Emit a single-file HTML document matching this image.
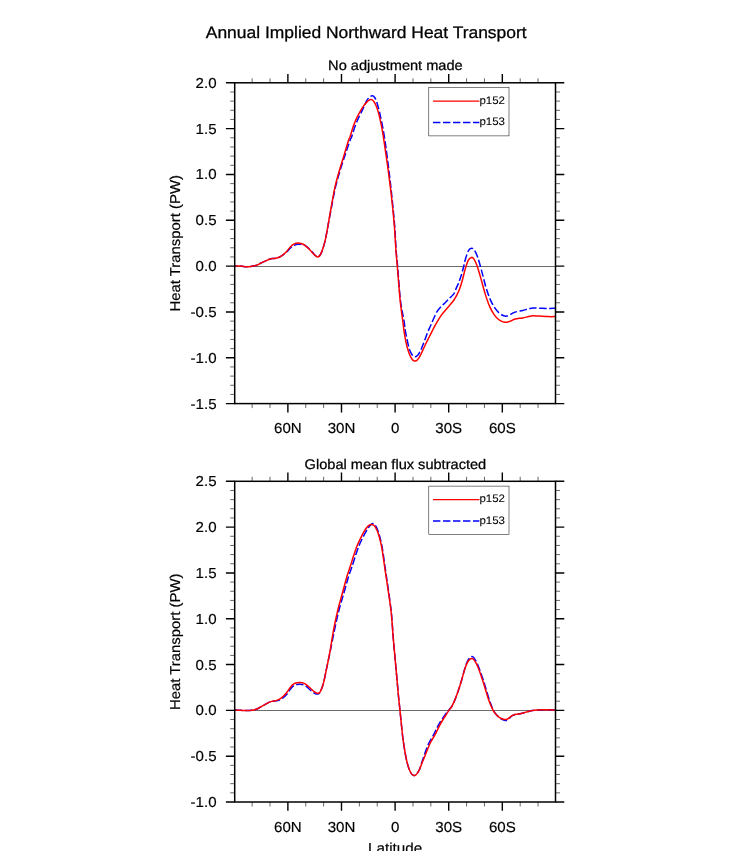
<!DOCTYPE html>
<html><head><meta charset="utf-8"><title>Annual Implied Northward Heat Transport</title>
<style>
html,body{margin:0;padding:0;background:#fff;}
body{width:732px;height:857px;overflow:hidden;font-family:"Liberation Sans",sans-serif;}
svg{display:block}
text{font-family:"Liberation Sans",sans-serif;fill:#000;text-rendering:geometricPrecision;stroke:#000;stroke-width:.16px}
svg{will-change:transform}
.tt{font-size:16.7px;stroke-width:.28px}
.st{font-size:13.9px;stroke-width:.26px}
.tl{font-size:14.5px}
.al{font-size:14.3px;stroke-width:.2px}
.lg{font-size:10.9px;stroke-width:.08px}
</style></head><body>
<svg width="732" height="857" viewBox="0 0 732 857">
<rect width="732" height="857" fill="#fff"/>
<text transform="translate(366.2 37.5) scale(1.045 1)" text-anchor="middle" class="tt">Annual Implied Northward Heat Transport</text>
<g><text transform="translate(395.40 70.00) scale(1.050 1)" text-anchor="middle" class="st">No adjustment made</text><path d="M234.70 266.50 H555.50" stroke="#000" stroke-width="0.58"/><path d="M234.90 266.00 C235.87 266.02 238.65 265.97 240.70 266.10 C242.75 266.23 245.15 266.82 247.20 266.80 C249.25 266.78 251.37 266.27 253.00 266.00 C254.63 265.73 255.65 265.70 257.00 265.20 C258.35 264.70 259.73 263.68 261.10 263.00 C262.47 262.32 263.83 261.73 265.20 261.10 C266.57 260.47 268.20 259.62 269.30 259.20 C270.40 258.78 270.70 258.77 271.80 258.60 C272.90 258.43 274.67 258.43 275.90 258.20 C277.13 257.97 278.13 257.67 279.20 257.20 C280.27 256.73 281.06 256.30 282.32 255.40 C283.59 254.50 285.32 253.13 286.77 251.82 C288.21 250.51 289.74 248.62 291.00 247.53 C292.26 246.45 293.07 245.83 294.30 245.30 C295.53 244.76 297.03 244.46 298.40 244.32 C299.77 244.18 301.28 244.21 302.50 244.45 C303.72 244.69 304.48 244.96 305.70 245.77 C306.92 246.58 308.46 247.96 309.80 249.30 C311.14 250.64 312.66 252.62 313.76 253.80 C314.86 254.98 315.67 255.88 316.37 256.40 C317.07 256.92 317.41 257.00 317.95 256.90 C318.49 256.80 318.99 256.60 319.60 255.80 C320.21 255.00 320.92 253.73 321.60 252.10 C322.28 250.47 323.02 248.32 323.70 246.00 C324.38 243.68 324.97 241.68 325.70 238.20 C326.43 234.72 327.12 230.37 328.10 225.10 C329.08 219.83 330.33 213.08 331.60 206.60 C332.87 200.12 334.20 192.50 335.70 186.20 C337.20 179.90 338.93 174.32 340.60 168.80 C342.27 163.28 344.10 157.92 345.70 153.10 C347.30 148.28 349.22 142.58 350.20 139.90 C351.18 137.22 350.77 139.35 351.60 137.00 C352.43 134.65 354.00 129.07 355.20 125.80 C356.40 122.53 357.67 119.90 358.80 117.40 C359.93 114.90 361.03 112.80 362.00 110.80 C362.97 108.80 363.87 107.00 364.60 105.40 C365.33 103.80 365.85 102.28 366.40 101.20 C366.95 100.12 367.30 99.65 367.90 98.90 C368.50 98.15 369.25 97.22 370.00 96.70 C370.75 96.18 371.65 95.72 372.40 95.80 C373.15 95.88 373.83 96.33 374.50 97.20 C375.17 98.07 375.82 99.48 376.40 101.00 C376.98 102.52 377.50 104.50 378.00 106.30 C378.50 108.10 378.90 109.72 379.40 111.80 C379.90 113.88 380.47 116.33 381.00 118.80 C381.53 121.27 382.05 123.68 382.60 126.60 C383.15 129.52 383.73 132.73 384.30 136.30 C384.87 139.87 385.27 142.58 386.00 148.00 C386.73 153.42 387.77 161.13 388.70 168.80 C389.63 176.47 390.62 184.62 391.60 194.00 C392.58 203.38 393.85 215.77 394.60 225.10 C395.35 234.43 395.60 243.18 396.10 250.00 C396.60 256.82 396.88 257.67 397.60 266.00 C398.32 274.33 399.30 290.67 400.40 300.00 C401.50 309.33 403.40 316.97 404.20 322.00 C405.00 327.03 404.73 327.35 405.20 330.20 C405.67 333.05 406.37 336.13 407.00 339.10 C407.63 342.07 408.32 345.67 409.00 348.00 C409.68 350.33 410.42 351.80 411.10 353.10 C411.78 354.40 412.42 355.18 413.10 355.80 C413.78 356.42 414.52 356.80 415.20 356.80 C415.88 356.80 416.53 356.42 417.20 355.80 C417.87 355.18 418.52 354.23 419.20 353.10 C419.88 351.97 420.62 350.53 421.30 349.00 C421.98 347.47 422.62 345.67 423.30 343.90 C423.98 342.13 424.72 340.23 425.40 338.40 C426.08 336.57 426.72 334.62 427.40 332.90 C428.08 331.18 428.82 329.63 429.50 328.10 C430.18 326.57 430.78 325.33 431.50 323.70 C432.22 322.07 432.88 320.30 433.80 318.30 C434.72 316.30 435.77 313.67 437.00 311.70 C438.23 309.73 439.80 308.03 441.20 306.50 C442.60 304.97 444.00 303.90 445.40 302.50 C446.80 301.10 448.20 299.53 449.60 298.10 C451.00 296.67 452.65 295.65 453.80 293.90 C454.95 292.15 455.68 289.47 456.50 287.60 C457.32 285.73 458.08 284.37 458.75 282.70 C459.42 281.03 459.96 279.23 460.50 277.60 C461.04 275.97 461.48 274.70 462.00 272.90 C462.52 271.10 463.03 269.07 463.60 266.80 C464.17 264.53 464.58 262.00 465.40 259.30 C466.22 256.60 467.47 252.43 468.50 250.60 C469.53 248.77 470.65 248.40 471.60 248.30 C472.55 248.20 473.22 248.58 474.20 250.00 C475.18 251.42 476.32 253.53 477.50 256.80 C478.68 260.07 479.92 264.60 481.30 269.60 C482.68 274.60 484.30 281.80 485.80 286.80 C487.30 291.80 488.80 296.08 490.30 299.60 C491.80 303.12 493.30 305.65 494.80 307.90 C496.30 310.15 497.80 311.78 499.30 313.10 C500.80 314.42 502.55 315.30 503.80 315.80 C505.05 316.30 505.67 316.35 506.80 316.10 C507.93 315.85 509.22 314.97 510.60 314.30 C511.98 313.63 513.10 312.75 515.10 312.10 C517.10 311.45 520.35 310.93 522.60 310.40 C524.85 309.87 526.85 309.30 528.60 308.90 C530.35 308.50 531.35 308.12 533.10 308.00 C534.85 307.88 536.58 308.12 539.10 308.20 C541.62 308.28 545.48 308.48 548.20 308.50 C550.92 308.52 554.20 308.33 555.40 308.30" fill="none" stroke="#00f" stroke-width="1.5" stroke-dasharray="7.4 2.57" stroke-dashoffset="4.69" stroke-linejoin="round"/><path d="M234.90 266.00 C235.87 266.02 238.65 265.97 240.70 266.10 C242.75 266.23 245.15 266.82 247.20 266.80 C249.25 266.78 251.37 266.27 253.00 266.00 C254.63 265.73 255.65 265.70 257.00 265.20 C258.35 264.70 259.73 263.68 261.10 263.00 C262.47 262.32 263.83 261.73 265.20 261.10 C266.57 260.47 268.20 259.62 269.30 259.20 C270.40 258.78 270.70 258.77 271.80 258.60 C272.90 258.43 274.67 258.43 275.90 258.20 C277.13 257.97 278.13 257.67 279.20 257.20 C280.27 256.73 281.10 256.32 282.30 255.40 C283.50 254.48 285.03 253.13 286.40 251.70 C287.77 250.27 289.27 248.07 290.50 246.80 C291.73 245.53 292.57 244.72 293.80 244.10 C295.03 243.48 296.53 243.15 297.90 243.10 C299.27 243.05 300.78 243.38 302.00 243.80 C303.22 244.22 303.98 244.68 305.20 245.60 C306.42 246.52 307.93 247.93 309.30 249.30 C310.67 250.67 312.23 252.62 313.40 253.80 C314.57 254.98 315.54 255.88 316.30 256.40 C317.06 256.92 317.40 257.00 317.95 256.90 C318.50 256.80 318.99 256.60 319.60 255.80 C320.21 255.00 320.92 253.73 321.60 252.10 C322.28 250.47 323.02 248.32 323.70 246.00 C324.38 243.68 324.97 241.68 325.70 238.20 C326.43 234.72 327.17 230.37 328.10 225.10 C329.03 219.83 330.12 213.08 331.30 206.60 C332.48 200.12 333.77 192.50 335.20 186.20 C336.63 179.90 338.32 174.32 339.90 168.80 C341.48 163.28 343.25 157.92 344.70 153.10 C346.15 148.28 347.72 142.58 348.60 139.90 C349.48 137.22 349.18 139.35 350.00 137.00 C350.82 134.65 352.33 129.07 353.50 125.80 C354.67 122.53 355.83 119.90 357.00 117.40 C358.17 114.90 359.33 112.80 360.50 110.80 C361.67 108.80 362.83 106.97 364.00 105.40 C365.17 103.83 366.57 102.32 367.50 101.40 C368.43 100.48 369.02 100.21 369.60 99.90 C370.18 99.59 370.53 99.53 371.00 99.55 C371.47 99.57 371.87 99.59 372.40 100.00 C372.93 100.41 373.55 100.95 374.20 102.00 C374.85 103.05 375.67 104.78 376.30 106.30 C376.93 107.82 377.42 109.13 378.00 111.10 C378.58 113.07 379.22 115.58 379.80 118.10 C380.38 120.62 380.92 123.17 381.50 126.20 C382.08 129.23 382.72 132.67 383.30 136.30 C383.88 139.93 384.22 142.58 385.00 148.00 C385.78 153.42 386.97 161.13 388.00 168.80 C389.03 176.47 390.15 184.62 391.20 194.00 C392.25 203.38 393.52 215.77 394.30 225.10 C395.08 234.43 395.40 243.18 395.90 250.00 C396.40 256.82 396.60 257.67 397.30 266.00 C398.00 274.33 399.17 290.67 400.10 300.00 C401.03 309.33 402.22 316.63 402.90 322.00 C403.58 327.37 403.70 328.90 404.20 332.20 C404.70 335.50 405.27 338.83 405.90 341.80 C406.53 344.77 407.32 347.72 408.00 350.00 C408.68 352.28 409.32 353.97 410.00 355.50 C410.68 357.03 411.47 358.32 412.10 359.20 C412.73 360.08 413.28 360.48 413.80 360.80 C414.32 361.12 414.68 361.17 415.20 361.10 C415.72 361.03 416.28 360.93 416.90 360.40 C417.52 359.87 418.22 358.95 418.90 357.90 C419.58 356.85 420.20 355.70 421.00 354.10 C421.80 352.50 422.80 350.23 423.70 348.30 C424.60 346.37 425.48 344.38 426.40 342.50 C427.32 340.62 428.28 338.82 429.20 337.00 C430.12 335.18 431.00 333.37 431.90 331.60 C432.80 329.83 433.70 328.07 434.60 326.40 C435.50 324.73 436.20 323.43 437.30 321.60 C438.40 319.77 439.85 317.30 441.20 315.40 C442.55 313.50 444.00 311.87 445.40 310.20 C446.80 308.53 448.20 307.07 449.60 305.40 C451.00 303.73 452.58 301.95 453.80 300.20 C455.02 298.45 455.95 296.73 456.90 294.90 C457.85 293.07 458.62 291.55 459.50 289.20 C460.38 286.85 461.22 284.27 462.20 280.80 C463.18 277.33 464.35 271.88 465.40 268.40 C466.45 264.92 467.48 261.73 468.50 259.90 C469.52 258.07 470.62 257.57 471.50 257.40 C472.38 257.23 472.92 257.62 473.80 258.90 C474.68 260.18 475.68 262.07 476.80 265.10 C477.92 268.13 479.12 272.35 480.50 277.10 C481.88 281.85 483.58 288.72 485.10 293.60 C486.62 298.48 488.10 302.90 489.60 306.40 C491.10 309.90 492.60 312.42 494.10 314.60 C495.60 316.78 497.10 318.28 498.60 319.50 C500.10 320.72 501.73 321.43 503.10 321.90 C504.47 322.37 505.55 322.45 506.80 322.30 C508.05 322.15 509.22 321.53 510.60 321.00 C511.98 320.47 513.10 319.62 515.10 319.10 C517.10 318.58 520.35 318.32 522.60 317.90 C524.85 317.48 526.85 316.95 528.60 316.60 C530.35 316.25 531.35 315.88 533.10 315.80 C534.85 315.72 536.58 315.97 539.10 316.10 C541.62 316.23 545.48 316.52 548.20 316.60 C550.92 316.68 554.20 316.60 555.40 316.60" fill="none" stroke="#f00" stroke-width="1.5" stroke-linejoin="round"/><rect x="234.70" y="82.80" width="320.80" height="320.80" fill="none" stroke="#000" stroke-width="1.5"/><path d="M225.90 82.80 h8.80 M555.50 82.80 h8.80" stroke="#000" stroke-width="1.4"/>
<path d="M230.20 91.97 h4.50 M555.50 91.97 h4.50" stroke="#000" stroke-width="0.6"/>
<path d="M230.20 101.13 h4.50 M555.50 101.13 h4.50" stroke="#000" stroke-width="0.6"/>
<path d="M230.20 110.30 h4.50 M555.50 110.30 h4.50" stroke="#000" stroke-width="0.6"/>
<path d="M230.20 119.46 h4.50 M555.50 119.46 h4.50" stroke="#000" stroke-width="0.6"/>
<path d="M225.90 128.63 h8.80 M555.50 128.63 h8.80" stroke="#000" stroke-width="1.4"/>
<path d="M230.20 137.79 h4.50 M555.50 137.79 h4.50" stroke="#000" stroke-width="0.6"/>
<path d="M230.20 146.96 h4.50 M555.50 146.96 h4.50" stroke="#000" stroke-width="0.6"/>
<path d="M230.20 156.13 h4.50 M555.50 156.13 h4.50" stroke="#000" stroke-width="0.6"/>
<path d="M230.20 165.29 h4.50 M555.50 165.29 h4.50" stroke="#000" stroke-width="0.6"/>
<path d="M225.90 174.46 h8.80 M555.50 174.46 h8.80" stroke="#000" stroke-width="1.4"/>
<path d="M230.20 183.62 h4.50 M555.50 183.62 h4.50" stroke="#000" stroke-width="0.6"/>
<path d="M230.20 192.79 h4.50 M555.50 192.79 h4.50" stroke="#000" stroke-width="0.6"/>
<path d="M230.20 201.95 h4.50 M555.50 201.95 h4.50" stroke="#000" stroke-width="0.6"/>
<path d="M230.20 211.12 h4.50 M555.50 211.12 h4.50" stroke="#000" stroke-width="0.6"/>
<path d="M225.90 220.29 h8.80 M555.50 220.29 h8.80" stroke="#000" stroke-width="1.4"/>
<path d="M230.20 229.45 h4.50 M555.50 229.45 h4.50" stroke="#000" stroke-width="0.6"/>
<path d="M230.20 238.62 h4.50 M555.50 238.62 h4.50" stroke="#000" stroke-width="0.6"/>
<path d="M230.20 247.78 h4.50 M555.50 247.78 h4.50" stroke="#000" stroke-width="0.6"/>
<path d="M230.20 256.95 h4.50 M555.50 256.95 h4.50" stroke="#000" stroke-width="0.6"/>
<path d="M225.90 266.11 h8.80 M555.50 266.11 h8.80" stroke="#000" stroke-width="1.4"/>
<path d="M230.20 275.28 h4.50 M555.50 275.28 h4.50" stroke="#000" stroke-width="0.6"/>
<path d="M230.20 284.45 h4.50 M555.50 284.45 h4.50" stroke="#000" stroke-width="0.6"/>
<path d="M230.20 293.61 h4.50 M555.50 293.61 h4.50" stroke="#000" stroke-width="0.6"/>
<path d="M230.20 302.78 h4.50 M555.50 302.78 h4.50" stroke="#000" stroke-width="0.6"/>
<path d="M225.90 311.94 h8.80 M555.50 311.94 h8.80" stroke="#000" stroke-width="1.4"/>
<path d="M230.20 321.11 h4.50 M555.50 321.11 h4.50" stroke="#000" stroke-width="0.6"/>
<path d="M230.20 330.27 h4.50 M555.50 330.27 h4.50" stroke="#000" stroke-width="0.6"/>
<path d="M230.20 339.44 h4.50 M555.50 339.44 h4.50" stroke="#000" stroke-width="0.6"/>
<path d="M230.20 348.61 h4.50 M555.50 348.61 h4.50" stroke="#000" stroke-width="0.6"/>
<path d="M225.90 357.77 h8.80 M555.50 357.77 h8.80" stroke="#000" stroke-width="1.4"/>
<path d="M230.20 366.94 h4.50 M555.50 366.94 h4.50" stroke="#000" stroke-width="0.6"/>
<path d="M230.20 376.10 h4.50 M555.50 376.10 h4.50" stroke="#000" stroke-width="0.6"/>
<path d="M230.20 385.27 h4.50 M555.50 385.27 h4.50" stroke="#000" stroke-width="0.6"/>
<path d="M230.20 394.43 h4.50 M555.50 394.43 h4.50" stroke="#000" stroke-width="0.6"/>
<path d="M225.90 403.60 h8.80 M555.50 403.60 h8.80" stroke="#000" stroke-width="1.4"/>
<path d="M538.06 78.30 v4.50 M538.06 403.60 v4.50" stroke="#000" stroke-width="0.6"/>
<path d="M520.19 78.30 v4.50 M520.19 403.60 v4.50" stroke="#000" stroke-width="0.6"/>
<path d="M502.32 74.00 v8.80 M502.32 403.60 v8.80" stroke="#000" stroke-width="1.4"/>
<path d="M484.45 78.30 v4.50 M484.45 403.60 v4.50" stroke="#000" stroke-width="0.6"/>
<path d="M466.58 78.30 v4.50 M466.58 403.60 v4.50" stroke="#000" stroke-width="0.6"/>
<path d="M448.71 74.00 v8.80 M448.71 403.60 v8.80" stroke="#000" stroke-width="1.4"/>
<path d="M430.84 78.30 v4.50 M430.84 403.60 v4.50" stroke="#000" stroke-width="0.6"/>
<path d="M412.97 78.30 v4.50 M412.97 403.60 v4.50" stroke="#000" stroke-width="0.6"/>
<path d="M395.10 74.00 v8.80 M395.10 403.60 v8.80" stroke="#000" stroke-width="1.4"/>
<path d="M377.23 78.30 v4.50 M377.23 403.60 v4.50" stroke="#000" stroke-width="0.6"/>
<path d="M359.36 78.30 v4.50 M359.36 403.60 v4.50" stroke="#000" stroke-width="0.6"/>
<path d="M341.49 74.00 v8.80 M341.49 403.60 v8.80" stroke="#000" stroke-width="1.4"/>
<path d="M323.62 78.30 v4.50 M323.62 403.60 v4.50" stroke="#000" stroke-width="0.6"/>
<path d="M305.75 78.30 v4.50 M305.75 403.60 v4.50" stroke="#000" stroke-width="0.6"/>
<path d="M287.88 74.00 v8.80 M287.88 403.60 v8.80" stroke="#000" stroke-width="1.4"/>
<path d="M270.01 78.30 v4.50 M270.01 403.60 v4.50" stroke="#000" stroke-width="0.6"/>
<path d="M252.14 78.30 v4.50 M252.14 403.60 v4.50" stroke="#000" stroke-width="0.6"/><text transform="translate(216.60 87.75) scale(1.040 1)" text-anchor="end" class="tl">2.0</text>
<text transform="translate(216.60 133.58) scale(1.040 1)" text-anchor="end" class="tl">1.5</text>
<text transform="translate(216.60 179.41) scale(1.040 1)" text-anchor="end" class="tl">1.0</text>
<text transform="translate(216.60 225.24) scale(1.040 1)" text-anchor="end" class="tl">0.5</text>
<text transform="translate(216.60 271.06) scale(1.040 1)" text-anchor="end" class="tl">0.0</text>
<text transform="translate(216.60 316.89) scale(1.040 1)" text-anchor="end" class="tl">-0.5</text>
<text transform="translate(216.60 362.72) scale(1.040 1)" text-anchor="end" class="tl">-1.0</text>
<text transform="translate(216.60 408.55) scale(1.040 1)" text-anchor="end" class="tl">-1.5</text><text transform="translate(287.88 433.10) scale(1.040 1)" text-anchor="middle" class="tl">60N</text>
<text transform="translate(341.49 433.10) scale(1.040 1)" text-anchor="middle" class="tl">30N</text>
<text transform="translate(395.10 433.10) scale(1.040 1)" text-anchor="middle" class="tl">0</text>
<text transform="translate(448.71 433.10) scale(1.040 1)" text-anchor="middle" class="tl">30S</text>
<text transform="translate(502.32 433.10) scale(1.040 1)" text-anchor="middle" class="tl">60S</text><rect x="428.8" y="87.6" width="80.2" height="48.3" fill="#fff" stroke="#000" stroke-width="0.5"/><path d="M433 101.0 H479.4" stroke="#f00" stroke-width="1.25" fill="none"/><path d="M433 122.5 H479.4" stroke="#00f" stroke-width="1.5" stroke-dasharray="7.4 2.6" fill="none"/><text transform="translate(479.40 103.60) scale(1.055 1)" text-anchor="start" class="lg">p152</text><text transform="translate(479.40 125.10) scale(1.055 1)" text-anchor="start" class="lg">p153</text><text transform="translate(179.7 243.3) rotate(-90) scale(1.04 1)" text-anchor="middle" class="al">Heat Transport (PW)</text></g><g><text transform="translate(395.40 468.50) scale(1.050 1)" text-anchor="middle" class="st">Global mean flux subtracted</text><path d="M234.70 710.50 H555.50" stroke="#000" stroke-width="0.58"/><path d="M234.90 710.10 C235.87 710.13 238.78 710.22 240.70 710.30 C242.62 710.38 244.50 710.62 246.40 710.60 C248.30 710.58 250.47 710.42 252.10 710.20 C253.73 709.98 254.83 709.80 256.20 709.30 C257.57 708.80 258.93 707.95 260.30 707.20 C261.67 706.45 263.03 705.57 264.40 704.80 C265.77 704.03 267.27 703.17 268.50 702.60 C269.73 702.03 270.57 701.69 271.80 701.40 C273.03 701.11 274.67 701.09 275.90 700.88 C277.13 700.68 277.97 700.73 279.20 700.18 C280.43 699.63 282.03 698.58 283.30 697.60 C284.57 696.62 285.60 695.73 286.80 694.30 C288.00 692.87 289.33 690.43 290.50 689.00 C291.67 687.57 292.72 686.45 293.80 685.70 C294.88 684.95 295.92 684.75 297.00 684.50 C298.08 684.25 299.20 684.13 300.30 684.20 C301.40 684.27 302.50 684.45 303.60 684.90 C304.70 685.35 305.67 685.95 306.90 686.90 C308.13 687.85 309.77 689.58 311.00 690.60 C312.23 691.62 313.35 692.48 314.30 693.04 C315.25 693.60 316.02 693.83 316.70 693.96 C317.38 694.09 317.85 694.10 318.40 693.82 C318.95 693.54 319.47 693.14 320.00 692.30 C320.53 691.46 320.98 690.48 321.60 688.80 C322.22 687.12 322.85 685.68 323.70 682.20 C324.55 678.72 325.62 673.02 326.70 667.90 C327.78 662.78 328.90 657.85 330.20 651.50 C331.50 645.15 333.09 636.57 334.52 629.80 C335.95 623.03 337.25 616.95 338.78 610.90 C340.31 604.85 342.07 599.28 343.72 593.50 C345.36 587.72 347.30 580.57 348.65 576.20 C350.00 571.83 350.68 570.65 351.80 567.30 C352.92 563.95 354.16 559.65 355.34 556.10 C356.52 552.55 357.71 548.97 358.89 546.00 C360.07 543.03 361.25 540.70 362.43 538.30 C363.61 535.90 364.93 533.44 365.98 531.60 C367.02 529.76 367.88 528.42 368.69 527.27 C369.51 526.11 370.16 525.29 370.85 524.65 C371.54 524.01 372.20 523.46 372.85 523.45 C373.49 523.44 374.09 523.86 374.72 524.57 C375.35 525.28 375.96 526.33 376.61 527.69 C377.26 529.04 377.94 530.65 378.60 532.70 C379.26 534.75 379.97 537.38 380.60 540.00 C381.22 542.62 381.78 545.13 382.35 548.40 C382.92 551.67 383.44 555.67 384.01 559.60 C384.58 563.53 385.08 567.27 385.76 572.00 C386.45 576.73 387.18 581.25 388.11 588.00 C389.03 594.75 390.45 603.83 391.34 612.50 C392.23 621.17 392.65 630.68 393.43 640.00 C394.21 649.32 395.17 659.20 396.00 668.40 C396.83 677.60 397.73 688.18 398.40 695.20 C399.07 702.22 399.32 703.87 400.00 710.50 C400.68 717.13 401.85 729.22 402.50 735.00 C403.15 740.78 403.38 741.78 403.90 745.20 C404.42 748.62 404.98 752.30 405.60 755.50 C406.22 758.70 406.92 761.90 407.60 764.40 C408.28 766.90 409.02 768.88 409.70 770.50 C410.38 772.12 411.08 773.30 411.70 774.10 C412.32 774.90 412.93 775.07 413.40 775.30 C413.87 775.53 414.10 775.55 414.50 775.50 C414.90 775.45 415.30 775.43 415.80 775.00 C416.30 774.57 416.87 773.87 417.50 772.90 C418.13 771.93 418.87 770.97 419.60 769.20 C420.33 767.43 421.11 764.58 421.87 762.30 C422.63 760.02 423.38 757.77 424.15 755.50 C424.92 753.23 425.66 750.87 426.50 748.70 C427.33 746.53 428.27 744.33 429.18 742.50 C430.09 740.67 431.17 739.08 431.96 737.70 C432.76 736.32 432.81 736.43 433.95 734.20 C435.09 731.97 436.88 727.65 438.82 724.30 C440.76 720.95 443.85 716.58 445.60 714.10 C447.35 711.62 448.25 710.73 449.32 709.40 C450.39 708.07 450.97 707.93 452.00 706.10 C453.03 704.27 454.33 701.32 455.50 698.40 C456.67 695.48 457.95 691.75 459.00 688.60 C460.05 685.45 460.87 682.72 461.80 679.50 C462.73 676.28 463.72 672.18 464.60 669.25 C465.48 666.33 466.28 663.83 467.10 661.95 C467.92 660.07 468.68 658.87 469.50 657.98 C470.32 657.08 471.21 656.55 472.00 656.60 C472.79 656.65 473.40 657.24 474.21 658.26 C475.02 659.28 475.95 660.86 476.85 662.71 C477.75 664.57 478.73 667.06 479.60 669.39 C480.48 671.72 481.33 674.43 482.10 676.70 C482.87 678.97 483.50 680.78 484.20 683.00 C484.90 685.22 485.53 687.47 486.30 690.00 C487.07 692.53 488.00 695.73 488.79 698.20 C489.59 700.67 490.33 702.82 491.07 704.80 C491.82 706.78 492.52 708.60 493.26 710.10 C494.01 711.60 494.70 712.71 495.54 713.80 C496.38 714.89 497.36 715.78 498.30 716.64 C499.24 717.51 500.30 718.39 501.20 718.98 C502.10 719.57 502.95 719.92 503.70 720.15 C504.45 720.39 505.02 720.46 505.70 720.40 C506.38 720.34 507.05 720.30 507.80 719.80 C508.55 719.30 509.38 718.14 510.20 717.40 C511.02 716.67 511.73 715.92 512.70 715.40 C513.67 714.88 514.77 714.57 516.00 714.30 C517.23 714.03 518.73 714.07 520.10 713.80 C521.47 713.53 522.83 713.08 524.20 712.70 C525.57 712.32 526.93 711.87 528.30 711.50 C529.67 711.13 530.90 710.75 532.40 710.50 C533.90 710.25 535.37 710.12 537.30 710.00 C539.23 709.88 540.98 709.82 544.00 709.80 C547.02 709.78 553.50 709.88 555.40 709.90" fill="none" stroke="#00f" stroke-width="1.5" stroke-dasharray="7.4 2.57" stroke-dashoffset="0.00" stroke-linejoin="round"/><path d="M234.90 710.10 C235.87 710.13 238.78 710.22 240.70 710.30 C242.62 710.38 244.50 710.62 246.40 710.60 C248.30 710.58 250.47 710.42 252.10 710.20 C253.73 709.98 254.83 709.80 256.20 709.30 C257.57 708.80 258.93 707.95 260.30 707.20 C261.67 706.45 263.03 705.57 264.40 704.80 C265.77 704.03 267.27 703.17 268.50 702.60 C269.73 702.03 270.57 701.73 271.80 701.40 C273.03 701.07 274.67 700.93 275.90 700.60 C277.13 700.27 277.97 700.13 279.20 699.40 C280.43 698.67 282.03 697.35 283.30 696.20 C284.57 695.05 285.60 694.00 286.80 692.50 C288.00 691.00 289.33 688.63 290.50 687.20 C291.67 685.77 292.72 684.65 293.80 683.90 C294.88 683.15 295.92 682.95 297.00 682.70 C298.08 682.45 299.20 682.33 300.30 682.40 C301.40 682.47 302.50 682.65 303.60 683.10 C304.70 683.55 305.67 684.15 306.90 685.10 C308.13 686.05 309.77 687.70 311.00 688.80 C312.23 689.90 313.35 690.98 314.30 691.70 C315.25 692.42 316.02 692.83 316.70 693.10 C317.38 693.37 317.85 693.47 318.40 693.30 C318.95 693.13 319.47 692.85 320.00 692.10 C320.53 691.35 320.98 690.45 321.60 688.80 C322.22 687.15 322.85 685.68 323.70 682.20 C324.55 678.72 325.65 673.02 326.70 667.90 C327.75 662.78 328.85 657.85 330.00 651.50 C331.15 645.15 332.33 636.57 333.60 629.80 C334.87 623.03 336.15 616.95 337.60 610.90 C339.05 604.85 340.73 599.28 342.30 593.50 C343.87 587.72 345.72 580.57 347.00 576.20 C348.28 571.83 348.92 570.65 350.00 567.30 C351.08 563.95 352.33 559.65 353.50 556.10 C354.67 552.55 355.83 548.97 357.00 546.00 C358.17 543.03 359.33 540.70 360.50 538.30 C361.67 535.90 362.95 533.42 364.00 531.60 C365.05 529.78 365.92 528.47 366.80 527.40 C367.68 526.33 368.48 525.70 369.30 525.20 C370.12 524.70 370.95 524.38 371.70 524.40 C372.45 524.42 373.10 524.68 373.80 525.30 C374.50 525.92 375.20 526.87 375.90 528.10 C376.60 529.33 377.30 530.72 378.00 532.70 C378.70 534.68 379.45 537.38 380.10 540.00 C380.75 542.62 381.32 545.13 381.90 548.40 C382.48 551.67 383.02 555.67 383.60 559.60 C384.18 563.53 384.70 567.27 385.40 572.00 C386.10 576.73 386.83 581.25 387.80 588.00 C388.77 594.75 390.27 603.83 391.20 612.50 C392.13 621.17 392.60 630.68 393.40 640.00 C394.20 649.32 395.17 659.20 396.00 668.40 C396.83 677.60 397.73 688.18 398.40 695.20 C399.07 702.22 399.32 703.87 400.00 710.50 C400.68 717.13 401.85 729.22 402.50 735.00 C403.15 740.78 403.38 741.78 403.90 745.20 C404.42 748.62 404.98 752.30 405.60 755.50 C406.22 758.70 406.92 761.90 407.60 764.40 C408.28 766.90 409.02 768.88 409.70 770.50 C410.38 772.12 411.08 773.30 411.70 774.10 C412.32 774.90 412.93 775.07 413.40 775.30 C413.87 775.53 414.10 775.55 414.50 775.50 C414.90 775.45 415.30 775.43 415.80 775.00 C416.30 774.57 416.87 773.87 417.50 772.90 C418.13 771.93 418.80 770.97 419.60 769.20 C420.40 767.43 421.38 764.58 422.30 762.30 C423.22 760.02 424.18 757.77 425.10 755.50 C426.02 753.23 426.90 750.87 427.80 748.70 C428.70 746.53 429.58 744.33 430.50 742.50 C431.42 740.67 432.50 739.08 433.30 737.70 C434.10 736.32 434.15 736.43 435.30 734.20 C436.45 731.97 438.33 727.65 440.20 724.30 C442.07 720.95 444.93 716.58 446.50 714.10 C448.07 711.62 448.68 710.73 449.60 709.40 C450.52 708.07 451.02 707.93 452.00 706.10 C452.98 704.27 454.33 701.32 455.50 698.40 C456.67 695.48 457.95 691.75 459.00 688.60 C460.05 685.45 460.87 682.65 461.80 679.50 C462.73 676.35 463.72 672.43 464.60 669.70 C465.48 666.97 466.28 664.78 467.10 663.10 C467.92 661.42 468.68 660.35 469.50 659.60 C470.32 658.85 471.23 658.55 472.00 658.60 C472.77 658.65 473.35 659.03 474.10 659.90 C474.85 660.77 475.68 662.17 476.50 663.80 C477.32 665.43 478.18 667.55 479.00 669.70 C479.82 671.85 480.65 674.48 481.40 676.70 C482.15 678.92 482.80 680.78 483.50 683.00 C484.20 685.22 484.83 687.47 485.60 690.00 C486.37 692.53 487.27 695.73 488.10 698.20 C488.93 700.67 489.78 702.82 490.60 704.80 C491.42 706.78 492.18 708.60 493.00 710.10 C493.82 711.60 494.62 712.72 495.50 713.80 C496.38 714.88 497.35 715.82 498.30 716.60 C499.25 717.38 500.30 718.05 501.20 718.50 C502.10 718.95 502.95 719.13 503.70 719.30 C504.45 719.47 505.02 719.57 505.70 719.50 C506.38 719.43 507.05 719.32 507.80 718.90 C508.55 718.48 509.38 717.58 510.20 717.00 C511.02 716.42 511.73 715.85 512.70 715.40 C513.67 714.95 514.77 714.57 516.00 714.30 C517.23 714.03 518.73 714.07 520.10 713.80 C521.47 713.53 522.83 713.08 524.20 712.70 C525.57 712.32 526.93 711.87 528.30 711.50 C529.67 711.13 530.90 710.75 532.40 710.50 C533.90 710.25 535.37 710.12 537.30 710.00 C539.23 709.88 540.98 709.82 544.00 709.80 C547.02 709.78 553.50 709.88 555.40 709.90" fill="none" stroke="#f00" stroke-width="1.5" stroke-linejoin="round"/><rect x="234.70" y="481.30" width="320.80" height="320.70" fill="none" stroke="#000" stroke-width="1.5"/><path d="M225.90 481.30 h8.80 M555.50 481.30 h8.80" stroke="#000" stroke-width="1.4"/>
<path d="M230.20 490.46 h4.50 M555.50 490.46 h4.50" stroke="#000" stroke-width="0.6"/>
<path d="M230.20 499.63 h4.50 M555.50 499.63 h4.50" stroke="#000" stroke-width="0.6"/>
<path d="M230.20 508.79 h4.50 M555.50 508.79 h4.50" stroke="#000" stroke-width="0.6"/>
<path d="M230.20 517.95 h4.50 M555.50 517.95 h4.50" stroke="#000" stroke-width="0.6"/>
<path d="M225.90 527.11 h8.80 M555.50 527.11 h8.80" stroke="#000" stroke-width="1.4"/>
<path d="M230.20 536.28 h4.50 M555.50 536.28 h4.50" stroke="#000" stroke-width="0.6"/>
<path d="M230.20 545.44 h4.50 M555.50 545.44 h4.50" stroke="#000" stroke-width="0.6"/>
<path d="M230.20 554.60 h4.50 M555.50 554.60 h4.50" stroke="#000" stroke-width="0.6"/>
<path d="M230.20 563.77 h4.50 M555.50 563.77 h4.50" stroke="#000" stroke-width="0.6"/>
<path d="M225.90 572.93 h8.80 M555.50 572.93 h8.80" stroke="#000" stroke-width="1.4"/>
<path d="M230.20 582.09 h4.50 M555.50 582.09 h4.50" stroke="#000" stroke-width="0.6"/>
<path d="M230.20 591.25 h4.50 M555.50 591.25 h4.50" stroke="#000" stroke-width="0.6"/>
<path d="M230.20 600.42 h4.50 M555.50 600.42 h4.50" stroke="#000" stroke-width="0.6"/>
<path d="M230.20 609.58 h4.50 M555.50 609.58 h4.50" stroke="#000" stroke-width="0.6"/>
<path d="M225.90 618.74 h8.80 M555.50 618.74 h8.80" stroke="#000" stroke-width="1.4"/>
<path d="M230.20 627.91 h4.50 M555.50 627.91 h4.50" stroke="#000" stroke-width="0.6"/>
<path d="M230.20 637.07 h4.50 M555.50 637.07 h4.50" stroke="#000" stroke-width="0.6"/>
<path d="M230.20 646.23 h4.50 M555.50 646.23 h4.50" stroke="#000" stroke-width="0.6"/>
<path d="M230.20 655.39 h4.50 M555.50 655.39 h4.50" stroke="#000" stroke-width="0.6"/>
<path d="M225.90 664.56 h8.80 M555.50 664.56 h8.80" stroke="#000" stroke-width="1.4"/>
<path d="M230.20 673.72 h4.50 M555.50 673.72 h4.50" stroke="#000" stroke-width="0.6"/>
<path d="M230.20 682.88 h4.50 M555.50 682.88 h4.50" stroke="#000" stroke-width="0.6"/>
<path d="M230.20 692.05 h4.50 M555.50 692.05 h4.50" stroke="#000" stroke-width="0.6"/>
<path d="M230.20 701.21 h4.50 M555.50 701.21 h4.50" stroke="#000" stroke-width="0.6"/>
<path d="M225.90 710.37 h8.80 M555.50 710.37 h8.80" stroke="#000" stroke-width="1.4"/>
<path d="M230.20 719.53 h4.50 M555.50 719.53 h4.50" stroke="#000" stroke-width="0.6"/>
<path d="M230.20 728.70 h4.50 M555.50 728.70 h4.50" stroke="#000" stroke-width="0.6"/>
<path d="M230.20 737.86 h4.50 M555.50 737.86 h4.50" stroke="#000" stroke-width="0.6"/>
<path d="M230.20 747.02 h4.50 M555.50 747.02 h4.50" stroke="#000" stroke-width="0.6"/>
<path d="M225.90 756.19 h8.80 M555.50 756.19 h8.80" stroke="#000" stroke-width="1.4"/>
<path d="M230.20 765.35 h4.50 M555.50 765.35 h4.50" stroke="#000" stroke-width="0.6"/>
<path d="M230.20 774.51 h4.50 M555.50 774.51 h4.50" stroke="#000" stroke-width="0.6"/>
<path d="M230.20 783.67 h4.50 M555.50 783.67 h4.50" stroke="#000" stroke-width="0.6"/>
<path d="M230.20 792.84 h4.50 M555.50 792.84 h4.50" stroke="#000" stroke-width="0.6"/>
<path d="M225.90 802.00 h8.80 M555.50 802.00 h8.80" stroke="#000" stroke-width="1.4"/>
<path d="M538.06 476.80 v4.50 M538.06 802.00 v4.50" stroke="#000" stroke-width="0.6"/>
<path d="M520.19 476.80 v4.50 M520.19 802.00 v4.50" stroke="#000" stroke-width="0.6"/>
<path d="M502.32 472.50 v8.80 M502.32 802.00 v8.80" stroke="#000" stroke-width="1.4"/>
<path d="M484.45 476.80 v4.50 M484.45 802.00 v4.50" stroke="#000" stroke-width="0.6"/>
<path d="M466.58 476.80 v4.50 M466.58 802.00 v4.50" stroke="#000" stroke-width="0.6"/>
<path d="M448.71 472.50 v8.80 M448.71 802.00 v8.80" stroke="#000" stroke-width="1.4"/>
<path d="M430.84 476.80 v4.50 M430.84 802.00 v4.50" stroke="#000" stroke-width="0.6"/>
<path d="M412.97 476.80 v4.50 M412.97 802.00 v4.50" stroke="#000" stroke-width="0.6"/>
<path d="M395.10 472.50 v8.80 M395.10 802.00 v8.80" stroke="#000" stroke-width="1.4"/>
<path d="M377.23 476.80 v4.50 M377.23 802.00 v4.50" stroke="#000" stroke-width="0.6"/>
<path d="M359.36 476.80 v4.50 M359.36 802.00 v4.50" stroke="#000" stroke-width="0.6"/>
<path d="M341.49 472.50 v8.80 M341.49 802.00 v8.80" stroke="#000" stroke-width="1.4"/>
<path d="M323.62 476.80 v4.50 M323.62 802.00 v4.50" stroke="#000" stroke-width="0.6"/>
<path d="M305.75 476.80 v4.50 M305.75 802.00 v4.50" stroke="#000" stroke-width="0.6"/>
<path d="M287.88 472.50 v8.80 M287.88 802.00 v8.80" stroke="#000" stroke-width="1.4"/>
<path d="M270.01 476.80 v4.50 M270.01 802.00 v4.50" stroke="#000" stroke-width="0.6"/>
<path d="M252.14 476.80 v4.50 M252.14 802.00 v4.50" stroke="#000" stroke-width="0.6"/><text transform="translate(216.60 486.25) scale(1.040 1)" text-anchor="end" class="tl">2.5</text>
<text transform="translate(216.60 532.06) scale(1.040 1)" text-anchor="end" class="tl">2.0</text>
<text transform="translate(216.60 577.88) scale(1.040 1)" text-anchor="end" class="tl">1.5</text>
<text transform="translate(216.60 623.69) scale(1.040 1)" text-anchor="end" class="tl">1.0</text>
<text transform="translate(216.60 669.51) scale(1.040 1)" text-anchor="end" class="tl">0.5</text>
<text transform="translate(216.60 715.32) scale(1.040 1)" text-anchor="end" class="tl">0.0</text>
<text transform="translate(216.60 761.14) scale(1.040 1)" text-anchor="end" class="tl">-0.5</text>
<text transform="translate(216.60 806.95) scale(1.040 1)" text-anchor="end" class="tl">-1.0</text><text transform="translate(287.88 831.50) scale(1.040 1)" text-anchor="middle" class="tl">60N</text>
<text transform="translate(341.49 831.50) scale(1.040 1)" text-anchor="middle" class="tl">30N</text>
<text transform="translate(395.10 831.50) scale(1.040 1)" text-anchor="middle" class="tl">0</text>
<text transform="translate(448.71 831.50) scale(1.040 1)" text-anchor="middle" class="tl">30S</text>
<text transform="translate(502.32 831.50) scale(1.040 1)" text-anchor="middle" class="tl">60S</text><rect x="428.8" y="486.1" width="80.2" height="48.3" fill="#fff" stroke="#000" stroke-width="0.5"/><path d="M433 499.6 H479.4" stroke="#f00" stroke-width="1.25" fill="none"/><path d="M433 521.0 H479.4" stroke="#00f" stroke-width="1.5" stroke-dasharray="7.4 2.6" fill="none"/><text transform="translate(479.40 502.10) scale(1.055 1)" text-anchor="start" class="lg">p152</text><text transform="translate(479.40 523.60) scale(1.055 1)" text-anchor="start" class="lg">p153</text><text transform="translate(179.7 641.8) rotate(-90) scale(1.04 1)" text-anchor="middle" class="al">Heat Transport (PW)</text></g><clipPath id="cb"><rect x="0" y="0" width="732" height="851.0"/></clipPath><g clip-path="url(#cb)"><text transform="translate(395.10 852.50) scale(1.050 1)" text-anchor="middle" class="tl">Latitude</text></g></svg></body></html>
